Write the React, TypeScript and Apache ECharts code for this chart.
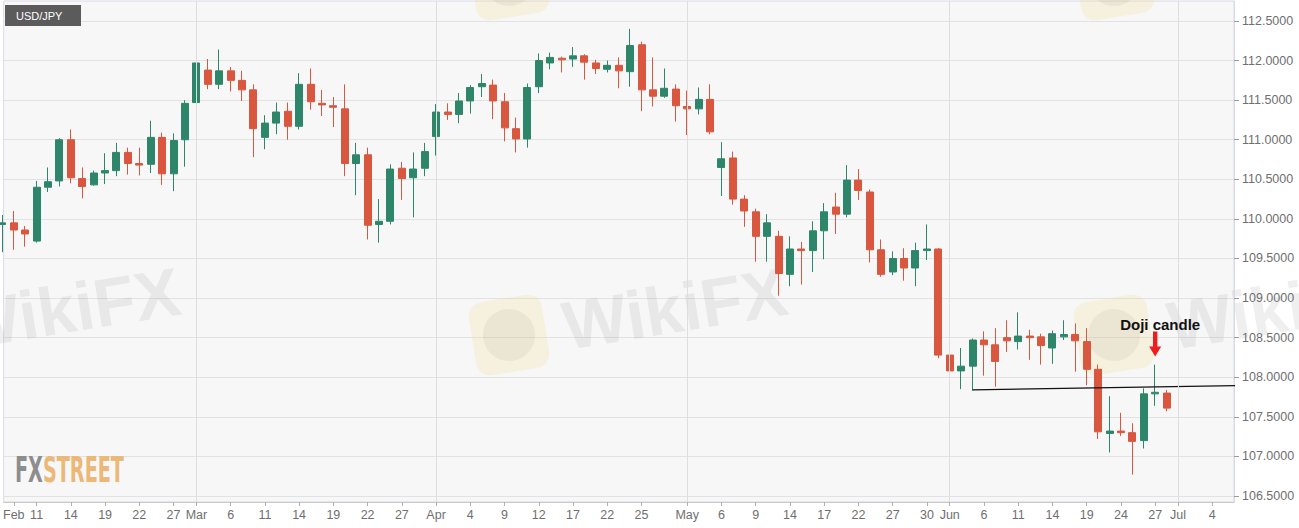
import React, { useEffect, useRef } from 'react';
import * as echarts from 'echarts';

// ---------- data ----------
function buildTradingDays(start: string, count: number): string[] {
  const out: string[] = [];
  const d = new Date(start + 'T00:00:00Z');
  while (out.length < count) {
    const wd = d.getUTCDay();
    if (wd !== 0 && wd !== 6) out.push(d.toISOString().slice(0, 10));
    d.setUTCDate(d.getUTCDate() + 1);
  }
  return out;
}
// weekday calendar (axis categories), Feb 6 2019 .. Jul 8 2019
const tradingDays = buildTradingDays('2019-02-06', 109);

const opens = [
  109.93, 109.95, 109.86, 109.72, 110.40, 110.48, 111.00, 110.51, 110.43, 110.58, 110.61, 110.84, 110.70, 110.69, 111.03, 110.57, 111.00,
  111.47, 111.88, 111.70, 111.87, 111.75, 111.63, 111.03, 111.21, 111.36, 111.17, 111.70, 111.46, 111.43, 111.39, 110.70, 110.81, 109.93, 109.97, 110.64, 110.52, 110.64,
  111.04, 111.35, 111.32, 111.49, 111.67, 111.69, 111.48, 111.14, 111.01, 111.67, 111.97, 112.03, 112.02, 112.06, 111.97, 111.89, 111.94, 111.86, 112.20, 111.63, 111.55, 111.64,
  111.42, 111.39, 111.51, 110.65, 110.77, 110.25, 110.09, 109.78, 109.78, 109.30, 109.62, 109.60, 109.85, 110.15, 110.06, 110.49, 110.34, 109.61, 109.33, 109.50, 109.38, 109.60, 109.62,
  108.28, 108.08, 108.14, 108.47, 108.41, 108.50, 108.45, 108.52, 108.51, 108.37, 108.51, 108.54, 108.45, 108.10, 107.29, 107.32, 107.30, 107.20, 107.79, 107.80,
];
const closes = [
  109.95, 109.86, 109.81, 110.40, 110.47, 111.00, 110.52, 110.41, 110.58, 110.61, 110.84, 110.70, 110.68, 111.03, 110.57, 110.99, 111.46,
  111.97, 111.70, 111.87, 111.75, 111.63, 111.14, 111.21, 111.35, 111.17, 111.70, 111.48, 111.44, 111.41, 110.70, 110.81, 109.92, 109.97, 110.63, 110.51, 110.63, 110.85,
  111.35, 111.32, 111.49, 111.66, 111.71, 111.49, 111.15, 111.01, 111.66, 112.00, 112.04, 112.01, 112.06, 111.98, 111.90, 111.94, 111.87, 112.19, 111.63, 111.55, 111.65, 111.43,
  111.39, 111.51, 111.10, 110.76, 110.25, 110.10, 109.78, 109.95, 109.31, 109.62, 109.60, 109.85, 110.09, 110.06, 110.49, 110.36, 109.61, 109.30, 109.50, 109.38, 109.60, 109.62, 108.28,
  108.08, 108.14, 108.47, 108.41, 108.20, 108.46, 108.52, 108.50, 108.40, 108.55, 108.54, 108.46, 108.10, 107.31, 107.32, 107.30, 107.19, 107.79, 107.81, 107.61,
];
const lows = [
  109.58, 109.61, 109.65, 109.70, 110.34, 110.41, 110.45, 110.26, 110.42, 110.44, 110.54, 110.56, 110.55, 110.58, 110.43, 110.35, 110.66,
  111.32, 111.64, 111.64, 111.61, 111.49, 110.78, 110.88, 111.07, 111.00, 111.13, 111.38, 111.30, 111.16, 110.54, 110.30, 109.74, 109.70, 109.93, 110.24, 110.02, 110.54,
  110.80, 111.25, 111.21, 111.33, 111.54, 111.26, 110.98, 110.84, 110.90, 111.59, 111.89, 111.85, 111.92, 111.76, 111.83, 111.85, 111.65, 111.67, 111.36, 111.42, 111.53, 111.23,
  111.06, 111.32, 111.07, 110.29, 110.18, 109.90, 109.46, 109.46, 109.03, 109.15, 109.17, 109.33, 109.49, 109.81, 110.02, 110.24, 109.45, 109.27, 109.29, 109.22, 109.15, 109.48, 108.24,
  107.88, 107.85, 107.83, 108.02, 107.88, 108.32, 108.35, 108.22, 108.16, 108.17, 108.47, 108.07, 107.90, 107.22, 107.05, 107.26, 106.77, 107.10, 107.64, 107.57,
];
const highs = [
  110.05, 110.10, 109.91, 110.48, 110.65, 111.02, 111.13, 110.65, 110.61, 110.83, 110.96, 110.90, 110.90, 111.24, 111.09, 111.08, 111.50,
  112.08, 112.02, 112.14, 111.92, 111.87, 111.70, 111.31, 111.47, 111.47, 111.84, 111.90, 111.63, 111.54, 111.70, 110.96, 110.90, 110.25, 110.69, 110.72, 110.84, 110.96,
  111.45, 111.46, 111.59, 111.69, 111.83, 111.76, 111.59, 111.28, 111.71, 112.09, 112.10, 112.05, 112.17, 112.08, 112.01, 112.00, 112.04, 112.40, 112.24, 112.04, 111.90, 111.70,
  111.62, 111.66, 111.70, 110.97, 110.85, 110.30, 110.13, 110.06, 109.85, 109.78, 109.71, 109.97, 110.20, 110.33, 110.68, 110.63, 110.37, 109.74, 109.59, 109.63, 109.70, 109.93, 109.63,
  108.48, 108.37, 108.49, 108.58, 108.62, 108.72, 108.82, 108.60, 108.55, 108.59, 108.72, 108.68, 108.62, 108.16, 107.76, 107.55, 107.42, 107.86, 108.16, 107.84,
];

const tickLabelList: Array<[string, string]> = [
  ['2019-02-07', 'Feb'], ['2019-02-11', '11'], ['2019-02-14', '14'], ['2019-02-19', '19'], ['2019-02-22', '22'], ['2019-02-27', '27'],
  ['2019-03-01', 'Mar'], ['2019-03-06', '6'], ['2019-03-11', '11'], ['2019-03-14', '14'], ['2019-03-19', '19'], ['2019-03-22', '22'], ['2019-03-27', '27'],
  ['2019-04-01', 'Apr'], ['2019-04-04', '4'], ['2019-04-09', '9'], ['2019-04-12', '12'], ['2019-04-17', '17'], ['2019-04-22', '22'], ['2019-04-25', '25'],
  ['2019-05-01', 'May'], ['2019-05-06', '6'], ['2019-05-09', '9'], ['2019-05-14', '14'], ['2019-05-17', '17'], ['2019-05-22', '22'], ['2019-05-27', '27'], ['2019-05-30', '30'],
  ['2019-06-03', 'Jun'], ['2019-06-06', '6'], ['2019-06-11', '11'], ['2019-06-14', '14'], ['2019-06-19', '19'], ['2019-06-24', '24'], ['2019-06-27', '27'],
  ['2019-07-01', 'Jul'], ['2019-07-04', '4'],
];
const monthStarts = ['2019-03-01', '2019-04-01', '2019-05-01', '2019-06-03', '2019-07-01'];
const priceTicks = [106.5, 107.0, 107.5, 108.0, 108.5, 109.0, 109.5, 110.0, 110.5, 111.0, 111.5, 112.0, 112.5];

// support line drawn on the chart
const trendStart: [string, number] = ['2019-06-05', 107.84];
const trendEnd: [string, number] = ['2019-07-08', 107.895];
const dojiDate = '2019-06-27';

// ---------- style ----------
const GREEN = '#2e866a';
const RED = '#d9563f';
const AXIS_FONT = '"Liberation Sans Narrow", "Liberation Sans", Arial, sans-serif';
const X_MIN = 0.1136;
const X_MAX = 107.906;
const Y_MIN = 106.4242;
const Y_MAX = 112.7526;

const idx = (d: string) => tradingDays.indexOf(d);

export default function App() {
  const ref = useRef<HTMLDivElement>(null);

  useEffect(() => {
    document.body.style.margin = '0';
    if (!ref.current) return;
    const chart = echarts.init(ref.current, undefined, { renderer: 'svg' });

    const labelByIndex: Record<number, string> = {};
    tickLabelList.forEach(([d, t]) => { labelByIndex[idx(d)] = t; });
    const tickIdx = tickLabelList.map(([d]) => idx(d));
    const monthIdx = monthStarts.map(idx);

    const candleData = opens.map((o, i) => [i, o, closes[i], lows[i], highs[i]]);
    const trendData = [[idx(trendStart[0]), trendStart[1]], [idx(trendEnd[0]), trendEnd[1]]];

    chart.setOption({
      animation: false,
      backgroundColor: '#ffffff',
      grid: {
        left: 1, top: 1, right: 65, bottom: 26,
        show: true, backgroundColor: '#f7f7f7', borderColor: '#d8dbe5', borderWidth: 1,
      },
      xAxis: {
        type: 'value', min: X_MIN, max: X_MAX,
        axisLine: { show: true, lineStyle: { color: '#c9c9c9' } },
        axisTick: { show: true, customValues: tickIdx, length: 4, lineStyle: { color: '#b0b0b0' } },
        axisLabel: {
          customValues: tickIdx,
          formatter: (v: number) => labelByIndex[Math.round(v)] ?? '',
          color: '#6f6f6f', fontSize: 12.5, fontFamily: AXIS_FONT, margin: 6,
        },
        splitLine: { show: false },
      },
      yAxis: {
        type: 'value', position: 'right', min: Y_MIN, max: Y_MAX,
        axisLine: { show: true, lineStyle: { color: '#d8dbe5' } },
        axisTick: { show: true, customValues: priceTicks, length: 5, lineStyle: { color: '#9a9a9a' } },
        axisLabel: {
          customValues: priceTicks,
          formatter: (v: number) => v.toFixed(4),
          color: '#6f6f6f', fontSize: 12.5, fontFamily: AXIS_FONT, margin: 8,
        },
        splitLine: { show: true, lineStyle: { color: '#e2e2e2', width: 1 } },
      },
      series: [
        {
          type: 'line', data: [], z: 1, silent: true,
          markLine: {
            silent: true, symbol: ['none', 'none'], label: { show: false },
            emphasis: { disabled: true },
            lineStyle: { color: '#dedede', width: 1, type: 'solid' },
            data: monthIdx.map((i) => ({ xAxis: i })),
          },
        },
        {
          type: 'candlestick', z: 2, barWidth: 7.5,
          encode: { x: 0, y: [1, 2, 3, 4] },
          data: candleData,
          itemStyle: { color: GREEN, color0: RED, borderColor: GREEN, borderColor0: RED, borderWidth: 1 },
        },
        {
          type: 'line', z: 3, data: trendData, symbol: 'none', silent: true,
          lineStyle: { color: '#111111', width: 1.2 },
        },
      ],
    });

    // annotations and watermarks
    const di = idx(dojiDate);
    const [ax, ay] = chart.convertToPixel({ gridIndex: 0 }, [di, highs[di]]) as number[];
    const tipY = ay - 8;
    const topY = tipY - 25;
    const arrow = {
      type: 'polygon', z: 20, silent: true,
      shape: {
        points: [
          [ax - 2.2, topY], [ax + 2.2, topY], [ax + 2.2, topY + 15], [ax + 6, topY + 15],
          [ax, tipY], [ax - 6, topY + 15], [ax - 2.2, topY + 15],
        ],
      },
      style: { fill: '#ee1c1c' },
    };
    const dojiText = {
      type: 'text', z: 20, silent: true, x: ax + 5, y: tipY - 32,
      style: { text: 'Doji candle', font: 'bold 15px "Liberation Sans", Arial, sans-serif', fill: '#111111', align: 'center', verticalAlign: 'middle' },
    };

    const wm = (cx: number, cy: number, withText: boolean) => ({
      type: 'group', x: cx, y: cy, rotation: 0.16, z: 100, silent: true,
      children: [
        { type: 'rect', shape: { x: -37, y: -37, width: 74, height: 74, r: 14 }, style: { fill: '#f3d163', opacity: 0.17 } },
        { type: 'circle', shape: { cx: 0, cy: 0, r: 26 }, style: { fill: '#8e8680', opacity: 0.1 } },
        ...(withText ? [{
          type: 'text', x: 55, y: 0,
          style: { text: 'WikiFX', font: 'bold 68px "Liberation Sans", Arial, sans-serif', fill: '#8e8680', opacity: 0.13, verticalAlign: 'middle' },
        }] : []),
      ],
    });

    const fxFont = 'bold 36px "DejaVu Sans Condensed", "DejaVu Sans", sans-serif';
    const ctx = document.createElement('canvas').getContext('2d')!;
    ctx.font = fxFont;
    const fxW = ctx.measureText('FX').width;
    const allW = ctx.measureText('FXSTREET').width;
    const sx = 109 / allW;

    chart.setOption({
      graphic: [
        {
          type: 'group', x: 5, y: 5, z: 10, silent: true,
          children: [
            { type: 'rect', shape: { x: 0, y: 0, width: 76, height: 21 }, style: { fill: '#5b5b5b' } },
            { type: 'text', x: 11, y: 10.5, style: { text: 'USD/JPY', font: '11px "Liberation Sans", Arial, sans-serif', fill: '#ffffff', verticalAlign: 'middle' } },
          ],
        },
        {
          type: 'group', x: 15, y: 470, scaleX: sx, z: 10, silent: true,
          children: [
            { type: 'text', x: 0, y: 0, style: { text: 'FX', font: fxFont, fill: '#8d8d90', verticalAlign: 'middle' } },
            { type: 'text', x: fxW, y: 0, style: { text: 'STREET', font: fxFont, fill: '#ebb878', verticalAlign: 'middle' } },
          ],
        },
        wm(-98, 335, true), wm(509, 335, true), wm(1114, 335, true), wm(509, -20, false), wm(1114, -20, false),
        arrow, dojiText,
      ],
    });

    return () => chart.dispose();
  }, []);

  return <div ref={ref} style={{ width: 1299, height: 528 }} />;
}
